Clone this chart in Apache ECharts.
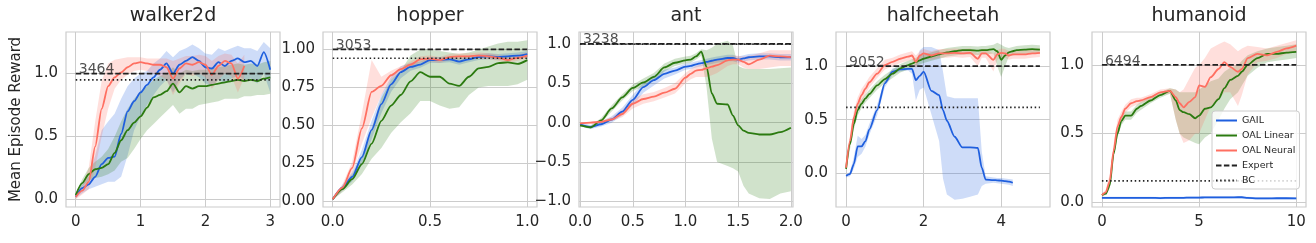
<!DOCTYPE html>
<html><head><meta charset="utf-8">
<script src="https://cdn.jsdelivr.net/npm/echarts@6/dist/echarts.min.js"></script>
<style>html,body{margin:0;padding:0;background:#fff}#c{width:1316px;height:243px}</style>
</head><body><div id="c"></div>
<script>
// ---------------- data ----------------
const titles = ['walker2d', 'hopper', 'ant', 'halfcheetah', 'humanoid'];
const expertScores = ['3464', '3053', '3238', '9052', '6494'];
const bcLevels = [0.95, 0.942, 0.995, 0.614, 0.154];
const legendNames = ['GAIL', 'OAL Linear', 'OAL Neural', 'Expert', 'BC'];

const walkerX = [0,0.1,0.2,0.3,0.4,0.5,0.6,0.7,0.8,0.9,1.0,1.1,1.2,1.3,1.4,1.5,1.6,1.7,1.8,1.9,2.0,2.1,2.2,2.3,2.4,2.5,2.6,2.7,2.8,2.9,3.0];
const walkerGail   = [0.02,0.09,0.12,0.18,0.28,0.33,0.34,0.52,0.70,0.78,0.85,0.91,0.97,1.03,1.08,1.00,1.07,1.10,1.13,1.10,1.05,1.04,1.09,1.06,1.10,1.12,1.09,1.10,1.06,1.17,1.03];
const walkerGailLo = [0.01,0.05,0.08,0.10,0.12,0.14,0.14,0.18,0.35,0.55,0.66,0.75,0.83,0.90,0.95,0.85,0.95,1.00,1.00,0.97,0.92,0.90,0.95,0.92,0.96,0.98,0.95,0.96,0.92,1.00,0.85];
const walkerGailHi = [0.03,0.13,0.18,0.35,0.55,0.62,0.68,0.80,0.90,0.96,1.00,1.02,1.08,1.12,1.18,1.13,1.18,1.20,1.23,1.20,1.16,1.15,1.20,1.18,1.20,1.22,1.20,1.20,1.18,1.25,1.20];
const walkerLin    = [0.035,0.13,0.20,0.24,0.25,0.28,0.37,0.47,0.55,0.61,0.66,0.73,0.81,0.83,0.86,0.92,0.85,0.90,0.88,0.90,0.90,0.91,0.92,0.93,0.94,0.95,0.94,0.95,0.94,0.96,0.97];
const walkerLinLo  = [0.02,0.10,0.15,0.17,0.18,0.20,0.23,0.30,0.33,0.40,0.48,0.55,0.60,0.65,0.70,0.75,0.68,0.72,0.72,0.75,0.76,0.77,0.78,0.80,0.80,0.80,0.82,0.82,0.83,0.83,0.84];
const walkerLinHi  = [0.05,0.16,0.25,0.30,0.34,0.40,0.50,0.62,0.72,0.80,0.86,0.90,0.95,0.98,1.00,1.05,1.00,1.03,1.02,1.03,1.03,1.04,1.05,1.06,1.07,1.08,1.07,1.08,1.07,1.09,1.10];
const walkerNeu    = [0.02,0.07,0.14,0.42,0.72,0.90,0.97,1.01,1.05,1.08,1.09,1.08,1.07,1.07,1.05,0.96,1.04,1.08,1.07,1.09,1.07,0.99,1.06,1.10,1.08,0.96,1.06,null,null,null,null];
const walkerNeuLo  = [0.00,0.04,0.08,0.25,0.50,0.72,0.88,0.95,0.99,1.02,1.03,1.02,1.00,0.98,0.95,0.83,0.92,1.00,0.98,1.00,0.97,0.88,0.95,1.00,0.98,0.85,0.97,null,null,null,null];
const walkerNeuHi  = [0.04,0.10,0.25,0.62,0.94,1.08,1.11,1.12,1.13,1.13,1.13,1.12,1.12,1.12,1.12,1.10,1.12,1.14,1.14,1.15,1.14,1.10,1.14,1.16,1.15,1.08,1.15,null,null,null,null];

const hopperX = [0,0.05,0.1,0.15,0.2,0.25,0.3,0.35,0.4,0.45,0.5,0.55,0.6,0.65,0.7,0.75,0.8,0.85,0.9,0.95,1.0];
const hopperGail   = [0.013,0.09,0.16,0.29,0.47,0.64,0.77,0.85,0.885,0.90,0.93,0.93,0.935,0.92,0.935,0.95,0.955,0.95,0.955,0.96,0.97];
const hopperGailLo = [0.005,0.07,0.13,0.24,0.41,0.58,0.72,0.81,0.86,0.88,0.91,0.91,0.915,0.90,0.915,0.93,0.935,0.93,0.935,0.94,0.95];
const hopperGailHi = [0.02,0.11,0.19,0.34,0.53,0.70,0.82,0.89,0.91,0.92,0.95,0.95,0.955,0.94,0.955,0.97,0.975,0.97,0.975,0.98,0.99];
const hopperLin    = [0.013,0.08,0.145,0.245,0.38,0.53,0.63,0.70,0.79,0.85,0.82,0.82,0.775,0.76,0.82,0.875,0.885,0.91,0.915,0.905,0.93];
const hopperLinLo  = [0.01,0.06,0.11,0.18,0.28,0.35,0.45,0.52,0.58,0.66,0.66,0.63,0.61,0.62,0.70,0.75,0.76,0.76,0.76,0.77,0.80];
const hopperLinHi  = [0.02,0.10,0.18,0.30,0.48,0.68,0.80,0.86,0.96,1.00,1.00,0.99,0.98,0.97,0.98,1.00,1.02,1.04,1.05,1.05,1.06];
const hopperNeu    = [0.013,0.09,0.22,0.48,0.72,0.76,0.83,0.87,0.90,0.935,0.94,0.93,0.95,0.955,0.955,0.96,0.955,0.945,0.93,0.945,0.96];
const hopperNeuLo  = [0.005,0.07,0.18,0.38,0.55,0.70,0.80,0.85,0.88,0.915,0.92,0.91,0.93,0.935,0.935,0.94,0.935,0.925,0.91,0.925,0.94];
const hopperNeuHi  = [0.02,0.11,0.26,0.58,0.93,0.82,0.86,0.89,0.92,0.955,0.96,0.95,0.97,0.975,0.975,0.98,0.975,0.965,0.95,0.965,0.98];

const antX = [0,0.1,0.2,0.3,0.4,0.5,0.6,0.7,0.8,0.9,1.0,1.05,1.1,1.15,1.2,1.25,1.3,1.4,1.45,1.5,1.55,1.6,1.7,1.8,1.9,2.0];
const antGail   = [-0.02,-0.055,-0.02,0.04,0.14,0.29,0.45,0.54,0.62,0.66,0.71,0.72,0.74,0.755,0.77,0.785,0.80,0.82,0.82,0.80,0.815,0.83,0.84,0.84,0.83,0.83];
const antGailLo = [-0.04,-0.08,-0.05,0.0,0.09,0.22,0.38,0.47,0.56,0.61,0.67,0.68,0.70,0.715,0.73,0.745,0.76,0.78,0.78,0.76,0.775,0.79,0.80,0.80,0.79,0.79];
const antGailHi = [0.0,-0.03,0.01,0.08,0.19,0.35,0.51,0.60,0.67,0.70,0.75,0.76,0.78,0.795,0.81,0.825,0.84,0.86,0.86,0.84,0.855,0.87,0.88,0.88,0.87,0.87];
const antLin    = [-0.035,-0.06,0.03,0.18,0.32,0.44,0.51,0.58,0.70,0.76,0.79,0.80,0.84,0.90,0.71,0.37,0.24,0.23,0.09,-0.035,-0.10,-0.13,-0.15,-0.15,-0.12,-0.065];
const antLinLo  = [-0.05,-0.08,0.0,0.14,0.28,0.40,0.46,0.53,0.65,0.72,0.75,0.76,0.80,0.85,0.45,-0.2,-0.5,-0.55,-0.58,-0.62,-0.8,-0.9,-0.96,-0.97,-0.9,-0.87];
const antLinHi  = [-0.02,-0.04,0.06,0.22,0.36,0.48,0.56,0.63,0.75,0.81,0.84,0.85,0.88,0.93,0.92,0.95,1.0,1.04,0.98,0.72,0.69,0.68,0.68,0.68,0.69,0.70];
const antNeu    = [-0.01,0.0,0.01,0.04,0.11,0.24,0.30,0.33,0.38,0.43,0.57,0.62,0.66,0.67,0.69,0.71,0.73,0.79,0.80,0.80,0.77,0.74,0.80,0.85,0.84,0.83];
const antNeuLo  = [-0.02,-0.01,0.0,0.02,0.07,0.18,0.24,0.27,0.32,0.37,0.50,0.55,0.58,0.58,0.58,0.60,0.63,0.72,0.74,0.74,0.70,0.68,0.68,0.70,0.72,0.72];
const antNeuHi  = [0.0,0.01,0.03,0.07,0.16,0.30,0.36,0.39,0.44,0.50,0.63,0.68,0.72,0.74,0.76,0.78,0.80,0.84,0.85,0.85,0.84,0.85,0.88,0.92,0.92,0.92];

const cheetahX = [0,0.1,0.2,0.3,0.4,0.5,0.6,0.8,1.0,1.2,1.4,1.6,1.7,1.8,1.9,2.0,2.2,2.4,2.5,2.6,2.8,3.0,3.2,3.4,3.5,3.6,3.8,3.9,4.0,4.1,4.2,4.3,4.4,4.6,4.8,5.0];
const cheetahGail   = [-0.025,-0.01,0.085,0.25,0.25,0.30,0.41,0.59,0.84,0.95,0.97,0.975,0.975,0.87,0.91,0.95,0.77,0.73,0.59,0.49,0.34,0.24,0.24,0.235,0.05,-0.06,-0.065,-0.068,-0.07,-0.075,-0.08,-0.09,null,null,null,null];
const cheetahGailLo = [-0.04,-0.03,0.04,0.15,0.18,0.25,0.36,0.54,0.80,0.92,0.95,0.96,0.93,0.68,0.78,0.80,0.55,0.30,-0.05,-0.20,-0.25,-0.24,-0.22,-0.20,-0.12,-0.10,-0.09,-0.095,-0.10,-0.105,-0.11,-0.12,null,null,null,null];
const cheetahGailHi = [-0.01,0.01,0.15,0.35,0.32,0.36,0.46,0.64,0.88,0.98,0.99,0.99,1.0,1.02,1.15,1.18,1.18,1.15,0.95,0.72,0.70,0.70,0.70,0.70,0.20,-0.03,-0.04,-0.045,-0.045,-0.05,-0.055,-0.06,null,null,null,null];
const cheetahLin    = [0.04,0.27,0.46,0.59,0.65,0.70,0.74,0.82,0.88,0.93,0.98,1.01,1.025,1.04,1.055,1.07,1.09,1.11,1.12,1.13,1.14,1.15,1.15,1.145,1.15,1.15,1.16,1.14,1.06,1.10,1.13,1.14,1.15,1.155,1.16,1.155];
const cheetahLinLo  = [0.03,0.22,0.41,0.54,0.61,0.66,0.70,0.78,0.84,0.89,0.94,0.97,0.985,1.0,1.015,1.03,1.05,1.07,1.08,1.09,1.10,1.11,1.11,1.105,1.11,1.11,1.12,1.0,0.90,1.0,1.09,1.10,1.11,1.115,1.12,1.115];
const cheetahLinHi  = [0.05,0.32,0.51,0.64,0.69,0.74,0.78,0.86,0.92,0.97,1.02,1.05,1.065,1.08,1.095,1.11,1.13,1.15,1.16,1.17,1.18,1.19,1.19,1.185,1.19,1.19,1.20,1.22,1.20,1.18,1.17,1.18,1.19,1.195,1.20,1.195];
const cheetahNeu    = [0.05,0.30,0.52,0.65,0.73,0.79,0.85,0.93,1.01,1.04,1.07,1.09,1.10,1.04,1.10,1.12,1.10,1.12,1.12,1.12,1.125,1.12,1.125,1.07,1.12,1.12,1.06,1.11,1.125,1.12,1.10,1.11,1.11,1.11,1.12,1.125];
const cheetahNeuLo  = [0.04,0.25,0.46,0.59,0.67,0.74,0.80,0.89,0.97,1.0,1.03,1.05,1.06,0.98,1.06,1.08,1.06,1.08,1.08,1.08,1.085,1.08,1.085,1.0,1.08,1.08,0.95,1.06,1.085,1.08,1.06,1.07,1.07,1.07,1.08,1.085];
const cheetahNeuHi  = [0.06,0.35,0.58,0.71,0.79,0.84,0.90,0.98,1.06,1.08,1.11,1.13,1.14,1.10,1.14,1.16,1.14,1.16,1.16,1.16,1.165,1.16,1.165,1.12,1.16,1.16,1.12,1.15,1.165,1.16,1.14,1.15,1.15,1.15,1.16,1.165];

const humanoidX = [0,0.2,0.4,0.6,0.8,1.0,1.2,1.5,1.8,2.0,2.5,3.0,3.5,3.8,4.0,4.2,4.5,4.8,5.0,5.3,5.6,6.0,6.3,6.6,7.0,7.2,7.5,8.0,8.5,9.0,9.5,10];
const humanoidGail   = [0.03,0.03,0.03,0.03,0.03,0.03,0.03,0.03,0.03,0.03,0.03,0.028,0.03,0.03,0.03,0.03,0.032,0.032,0.032,0.033,0.033,0.033,0.033,0.033,0.034,0.034,0.03,0.026,0.026,0.027,0.027,0.026];
const humanoidGailLo = [0.022,0.022,0.022,0.022,0.022,0.022,0.022,0.022,0.022,0.022,0.022,0.02,0.022,0.022,0.022,0.022,0.024,0.024,0.024,0.025,0.025,0.025,0.025,0.025,0.026,0.026,0.022,0.018,0.018,0.019,0.019,0.018];
const humanoidGailHi = [0.038,0.038,0.038,0.038,0.038,0.038,0.038,0.038,0.038,0.038,0.038,0.036,0.038,0.038,0.038,0.038,0.04,0.04,0.04,0.041,0.041,0.041,0.041,0.041,0.042,0.042,0.038,0.034,0.034,0.035,0.035,0.034];
const humanoidLin    = [0.05,0.06,0.12,0.35,0.50,0.59,0.63,0.63,0.68,0.70,0.74,0.78,0.81,0.74,0.67,0.655,0.64,0.61,0.63,0.68,0.69,0.75,0.83,0.89,0.92,0.95,1.0,1.05,1.08,1.08,1.09,1.095];
const humanoidLinLo  = [0.04,0.05,0.10,0.32,0.47,0.56,0.60,0.60,0.65,0.67,0.72,0.76,0.79,0.60,0.50,0.47,0.45,0.43,0.42,0.47,0.50,0.60,0.68,0.75,0.80,0.85,0.92,0.98,1.02,1.03,1.04,1.05];
const humanoidLinHi  = [0.06,0.07,0.14,0.38,0.53,0.62,0.66,0.66,0.71,0.73,0.77,0.80,0.83,0.82,0.80,0.80,0.80,0.80,0.82,0.85,0.88,0.90,0.95,0.98,1.00,1.03,1.07,1.10,1.12,1.13,1.14,1.15];
const humanoidNeu    = [0.05,0.07,0.15,0.37,0.55,0.62,0.68,0.72,0.735,0.74,0.765,0.80,0.81,0.765,0.72,0.69,0.73,0.765,0.85,0.84,0.91,0.97,1.02,0.985,0.95,0.97,1.05,1.08,1.07,1.095,1.12,1.14];
const humanoidNeuLo  = [0.04,0.06,0.12,0.33,0.51,0.59,0.65,0.69,0.71,0.72,0.745,0.78,0.79,0.60,0.50,0.43,0.45,0.50,0.50,0.60,0.70,0.75,0.80,0.80,0.70,0.78,0.93,1.02,1.03,1.05,1.08,1.10];
const humanoidNeuHi  = [0.06,0.09,0.20,0.42,0.60,0.66,0.71,0.75,0.76,0.76,0.785,0.82,0.83,0.82,0.80,0.82,0.90,0.98,1.00,1.05,1.12,1.15,1.17,1.15,1.10,1.12,1.14,1.13,1.12,1.14,1.16,1.18];

// tick labels
const walkerXTicks = [0,1,2,3], hopperXTicks = [0,0.5,1], antXTicks = [0,0.5,1,1.5,2], cheetahXTicks = [0,2,4], humanoidXTicks = [0,5,10];
const walkerYTicks = [0,0.5,1], hopperYTicks = [0,0.25,0.5,0.75,1], antYTicks = [-1,-0.5,0,0.5,1], cheetahYTicks = [0,0.5,1], humanoidYTicks = [0,0.5,1];

// ---------------- style / layout ----------------
const C_GAIL = '#1f5fde', C_LIN = '#2b7a10', C_NEU = '#ff6f61', C_K = '#222222', C_TXT = '#262626';
const FONT = 'DejaVu Sans';
const panels = [
  {x: walkerX, s: [[walkerGail,walkerGailLo,walkerGailHi],[walkerLin,walkerLinLo,walkerLinHi],[walkerNeu,walkerNeuLo,walkerNeuHi]],
   xr: [-0.15, 3.15], yr: [-0.06, 1.33], xt: walkerXTicks, yt: walkerYTicks, xd: 0, yd: 1, xEnd: 3, left: 66},
  {x: hopperX, s: [[hopperGail,hopperGailLo,hopperGailHi],[hopperLin,hopperLinLo,hopperLinHi],[hopperNeu,hopperNeuLo,hopperNeuHi]],
   xr: [-0.05, 1.05], yr: [-0.038, 1.115], xt: hopperXTicks, yt: hopperYTicks, xd: 1, yd: 2, xEnd: 1, left: 323},
  {x: antX, s: [[antGail,antGailLo,antGailHi],[antLin,antLinLo,antLinHi],[antNeu,antNeuLo,antNeuHi]],
   xr: [-0.01, 2.02], yr: [-1.07, 1.15], xt: antXTicks, yt: antYTicks, xd: 1, yd: 1, xEnd: 2, left: 579},
  {x: cheetahX, s: [[cheetahGail,cheetahGailLo,cheetahGailHi],[cheetahLin,cheetahLinLo,cheetahLinHi],[cheetahNeu,cheetahNeuLo,cheetahNeuHi]],
   xr: [-0.26, 5.26], yr: [-0.317, 1.32], xt: cheetahXTicks, yt: cheetahYTicks, xd: 0, yd: 1, xEnd: 5, left: 836},
  {x: humanoidX, s: [[humanoidGail,humanoidGailLo,humanoidGailHi],[humanoidLin,humanoidLinLo,humanoidLinHi],[humanoidNeu,humanoidNeuLo,humanoidNeuHi]],
   xr: [-0.51, 10.5], yr: [-0.037, 1.24], xt: humanoidXTicks, yt: humanoidYTicks, xd: 0, yd: 1, xEnd: 10, left: 1092}
];
const GW = 214, GT = 32, GH = 175;
const colors = [C_GAIL, C_LIN, C_NEU];

function fmt(v, d) { return v.toFixed(d).replace('-', '\u2212'); }
function pairs(xs, ys) { const out = []; for (let i = 0; i < xs.length; i++) if (ys[i] != null) out.push([xs[i], ys[i]]); return out; }

const grid = [], xAxis = [], yAxis = [], title = [], series = [];
panels.forEach((p, gi) => {
  grid.push({left: p.left, top: GT, width: GW, height: GH, show: true, borderColor: '#cccccc', borderWidth: 1.2});
  title.push({text: titles[gi], left: p.left + GW / 2, top: 7, textAlign: 'center', padding: 0,
    textStyle: {fontSize: 19, fontWeight: 'normal', color: C_TXT, fontFamily: FONT}});
  xAxis.push({type: 'value', gridIndex: gi, min: p.xr[0], max: p.xr[1],
    axisLine: {show: false}, axisTick: {show: false, customValues: p.xt},
    axisLabel: {customValues: p.xt, formatter: v => fmt(v, p.xd), color: C_TXT, fontSize: 15, fontFamily: FONT, margin: 8},
    splitLine: {show: true, lineStyle: {color: '#cccccc', width: 1}}});
  const ya = {type: 'value', gridIndex: gi, min: p.yr[0], max: p.yr[1],
    axisLine: {show: false}, axisTick: {show: false, customValues: p.yt},
    axisLabel: {customValues: p.yt, formatter: v => fmt(v, p.yd), color: C_TXT, fontSize: 15, fontFamily: FONT, margin: 8},
    splitLine: {show: true, lineStyle: {color: '#cccccc', width: 1}}};
  if (gi === 0) {
    ya.name = 'Mean Episode Reward'; ya.nameLocation = 'middle'; ya.nameGap = 42;
    ya.nameTextStyle = {fontSize: 15, color: C_TXT, fontFamily: FONT};
  }
  yAxis.push(ya);
  // bands
  p.s.forEach((trip, k) => {
    const lo = trip[1], hi = trip[2], xs = p.x;
    series.push({type: 'custom', xAxisIndex: gi, yAxisIndex: gi, silent: true, z: 1, clip: true,
      data: [[xs[0], trip[0][0]]],
      renderItem: (params, api) => {
        if (params.dataIndex !== 0) return;
        const top = [], bot = [];
        for (let i = 0; i < xs.length; i++) {
          if (lo[i] == null || hi[i] == null) continue;
          top.push(api.coord([xs[i], hi[i]]));
          bot.push(api.coord([xs[i], lo[i]]));
        }
        return {type: 'polygon', shape: {points: top.concat(bot.reverse())},
          style: {fill: colors[k], opacity: 0.22, stroke: null}};
      }});
  });
  // mean lines
  p.s.forEach((trip, k) => {
    series.push({type: 'line', name: legendNames[k], xAxisIndex: gi, yAxisIndex: gi, z: 3,
      data: pairs(p.x, trip[0]), symbol: 'none', showSymbol: false, smooth: 0.25, smoothMonotone: 'x',
      lineStyle: {width: 1.8, color: colors[k]}, itemStyle: {color: colors[k]}});
  });
  // expert & BC
  series.push({type: 'line', name: 'Expert', xAxisIndex: gi, yAxisIndex: gi, z: 4, symbol: 'none',
    data: [[0, 1], [p.xEnd, 1]], lineStyle: {width: 1.7, color: C_K, type: [5.5, 2.4]}, itemStyle: {color: C_K}});
  series.push({type: 'line', name: 'BC', xAxisIndex: gi, yAxisIndex: gi, z: 4, symbol: 'none',
    data: [[0, bcLevels[gi]], [p.xEnd, bcLevels[gi]]], lineStyle: {width: 1.7, color: C_K, type: [1.5, 2.6]}, itemStyle: {color: C_K}});
  series.push({type: 'scatter', xAxisIndex: gi, yAxisIndex: gi, z: 5, silent: true, symbolSize: 0,
    itemStyle: {color: 'rgba(0,0,0,0)'}, data: [[0, 1]],
    label: {show: true, formatter: expertScores[gi], position: 'top', align: 'left', distance: 0, offset: [3, 3],
      color: C_TXT, fontSize: 14, fontFamily: FONT}});
});

const chart = echarts.init(document.getElementById('c'), null, {renderer: 'canvas'});
chart.setOption({
  animation: false,
  backgroundColor: '#ffffff',
  textStyle: {fontFamily: FONT},
  title, grid, xAxis, yAxis, series,
  legend: {data: legendNames, orient: 'vertical', left: 1212, top: 111, itemWidth: 21, itemHeight: 8, itemGap: 4,
    selectedMode: false, backgroundColor: 'rgba(255,255,255,0.8)', borderColor: '#cccccc', borderWidth: 1, borderRadius: 3,
    padding: [4, 4, 3, 3], z: 10,
    itemStyle: {color: 'rgba(0,0,0,0)', borderWidth: 0, opacity: 0},
    textStyle: {fontSize: 9.5, color: C_TXT, fontFamily: FONT, lineHeight: 11}}
});
</script></body></html>
